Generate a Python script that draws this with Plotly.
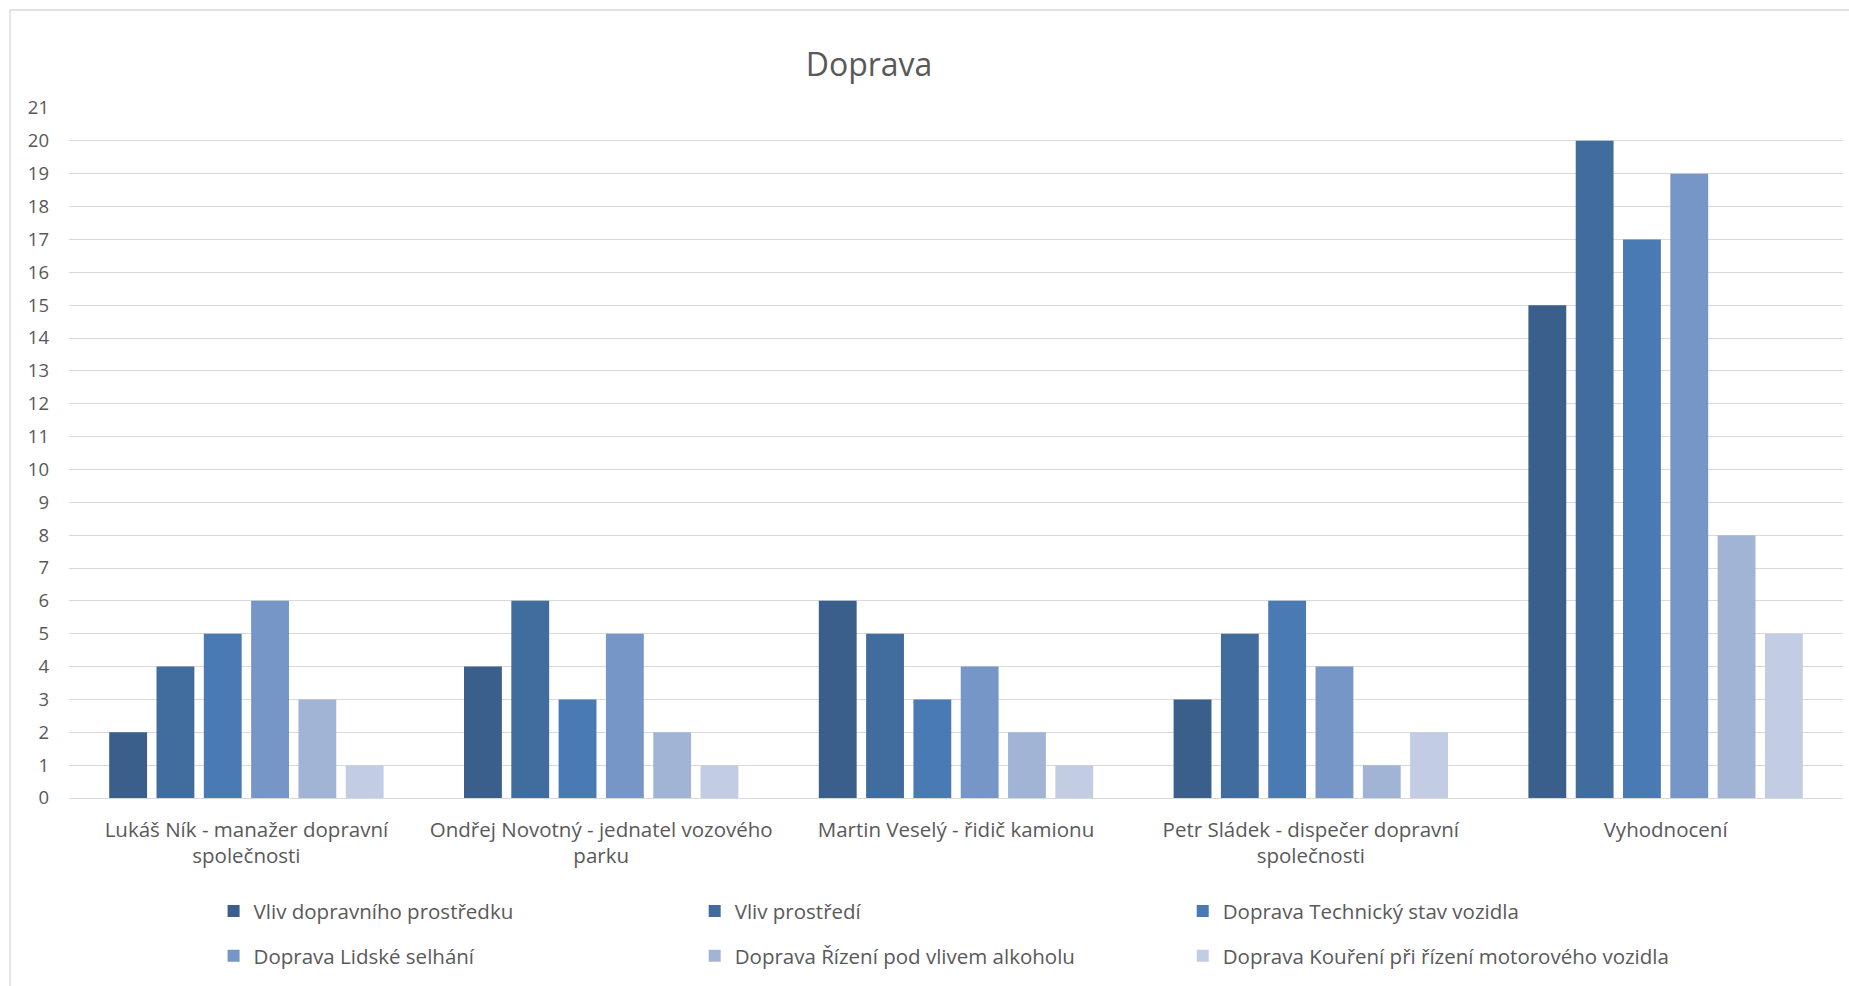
import plotly.graph_objects as go

categories = [
    "Lukáš Ník - manažer dopravní<br>společnosti",
    "Ondřej Novotný - jednatel vozového<br>parku",
    "Martin Veselý - řidič kamionu",
    "Petr Sládek - dispečer dopravní<br>společnosti",
    "Vyhodnocení",
]
series_names = [
    "Vliv dopravního prostředku",
    "Vliv prostředí",
    "Doprava Technický stav vozidla",
    "Doprava Lidské selhání",
    "Doprava Řízení pod vlivem alkoholu",
    "Doprava Kouření při řízení motorového vozidla",
]
vliv_dopravniho = [2, 4, 6, 3, 15]
vliv_prostredi = [4, 6, 5, 5, 20]
technicky_stav = [5, 3, 3, 6, 17]
lidske_selhani = [6, 5, 4, 4, 19]
alkohol = [3, 2, 2, 1, 8]
koureni = [1, 1, 1, 2, 5]
y_ticks = list(range(0, 22))

series_values = [vliv_dopravniho, vliv_prostredi, technicky_stav, lidske_selhani, alkohol, koureni]
colors = ["#3A5F8B", "#416C9E", "#4A7AB3", "#7596C6", "#A2B4D5", "#C2CDE3"]

FONT = "Open Sans"
TXT = "#595959"

# legend placement: 3 columns x 2 rows, one legend per entry
col_x = [0.0815, 0.3527, 0.6278]
row_y = [-0.164, -0.229]

fig = go.Figure()
legend_layouts = {}
for i, (name, vals, col) in enumerate(zip(series_names, series_values, colors)):
    lid = "legend" if i == 0 else f"legend{i + 1}"
    fig.add_trace(go.Bar(
        x=categories, y=vals, name=name, legend=lid, showlegend=True,
        marker=dict(color=col, line=dict(width=0)),
    ))
    legend_layouts[lid] = dict(
        orientation="h", xanchor="left", yanchor="middle",
        x=col_x[i % 3], y=row_y[i // 3],
        font=dict(family=FONT, size=20.5, color=TXT),
        bgcolor="rgba(0,0,0,0)", itemclick=False,
    )

fig.update_layout(
    width=1849, height=986,
    margin=dict(l=69, r=6, t=108, b=188),
    paper_bgcolor="white", plot_bgcolor="white",
    showlegend=True,
    title=dict(text="Doprava", x=0.47, xanchor="center", y=0.934, yanchor="middle",
               font=dict(family=FONT, size=32, color=TXT)),
    barmode="group", bargap=0.2, bargroupgap=0.2,
    font=dict(family=FONT, color=TXT),
    xaxis=dict(
        tickfont=dict(family=FONT, size=20.5, color=TXT),
        showgrid=False, showline=False, ticks="", ticklabelstandoff=17,
    ),
    yaxis=dict(
        range=[0, 21], tickvals=y_ticks, ticktext=[str(v) for v in y_ticks],
        showgrid=True, gridcolor="#D9D9D9", gridwidth=1.3,
        zeroline=True, zerolinecolor="#D9D9D9", zerolinewidth=1.3,
        tickfont=dict(family=FONT, size=18.5, color=TXT),
        ticks="", ticklabelstandoff=19,
    ),
    shapes=[dict(type="rect", xref="paper", yref="paper",
                 x0=(10 - 69) / 1774, x1=1.01, y0=-0.3, y1=(798 - 10) / 690,
                 line=dict(color="#D9D9D9", width=1.3), fillcolor="rgba(0,0,0,0)",
                 layer="below")],
    **legend_layouts,
)

fig.write_html("out.html")
